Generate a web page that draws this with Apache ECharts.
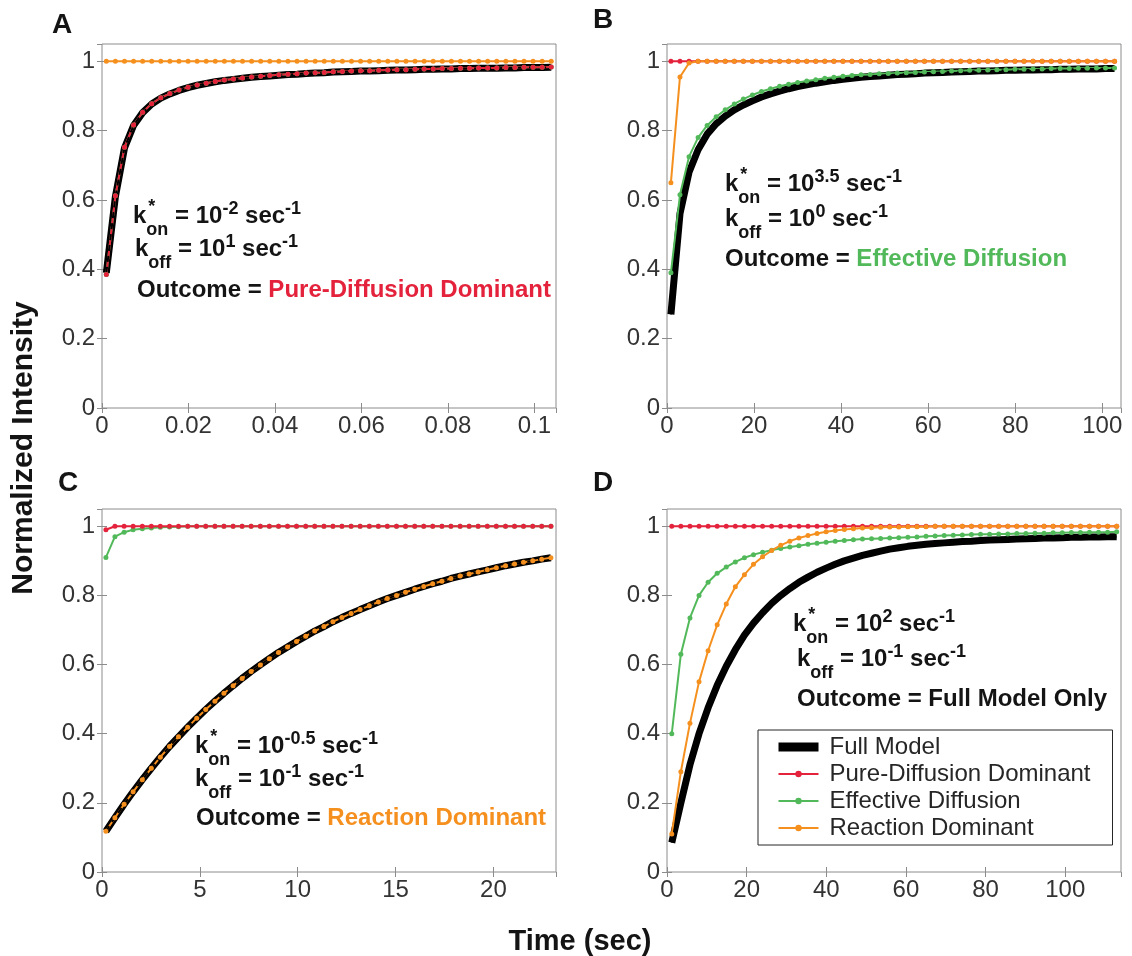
<!DOCTYPE html>
<html><head><meta charset="utf-8">
<script src="https://cdn.jsdelivr.net/npm/echarts@6/dist/echarts.min.js"></script>
<style>html,body{margin:0;padding:0;background:#fff}#c{width:1132px;height:956px}</style>
</head><body><div id="c"></div>
<script>
// ---------- Panel A (time axis 0..0.105 s) ----------
const tA = [0.001,0.0031,0.0052,0.0073,0.0094,0.0115,0.0136,0.0157,0.0178,0.0199,
  0.022,0.0241,0.0262,0.0283,0.0304,0.0325,0.0346,0.0367,0.0388,0.0409,
  0.043,0.0451,0.0472,0.0493,0.0514,0.0535,0.0556,0.0577,0.0598,0.0619,
  0.064,0.0661,0.0682,0.0703,0.0724,0.0745,0.0766,0.0787,0.0808,0.0829,
  0.085,0.0871,0.0892,0.0913,0.0934,0.0955,0.0976,0.0997,0.1018,0.1039];
const fullA = [0.39,0.61,0.75,0.815,0.852,0.877,0.894,0.906,0.916,0.924,
  0.931,0.936,0.941,0.945,0.948,0.951,0.954,0.956,0.958,0.96,
  0.962,0.963,0.965,0.966,0.967,0.969,0.97,0.971,0.972,0.972,
  0.973,0.974,0.975,0.975,0.976,0.977,0.977,0.978,0.978,0.979,
  0.979,0.98,0.98,0.98,0.981,0.981,0.982,0.982,0.982,0.983];
const pureA = [0.385,0.612,0.752,0.816,0.853,0.878,0.895,0.907,0.917,0.925,
  0.932,0.937,0.942,0.946,0.949,0.952,0.955,0.957,0.959,0.961,
  0.963,0.964,0.966,0.967,0.968,0.97,0.971,0.972,0.973,0.973,
  0.974,0.975,0.976,0.976,0.977,0.978,0.978,0.979,0.979,0.98,
  0.98,0.981,0.981,0.981,0.982,0.982,0.983,0.983,0.983,0.984];
const effA = pureA;
const reactA = [1,1,1,1,1,1,1,1,1,1, 1,1,1,1,1,1,1,1,1,1, 1,1,1,1,1,1,1,1,1,1,
  1,1,1,1,1,1,1,1,1,1, 1,1,1,1,1,1,1,1,1,1];

// ---------- Panel B (time axis 0..104.3 s) ----------
const tB = [0.9,2.98,5.06,7.14,9.22,11.3,13.38,15.46,17.54,19.62,
  21.7,23.78,25.86,27.94,30.02,32.1,34.18,36.26,38.34,40.42,
  42.5,44.58,46.66,48.74,50.82,52.9,54.98,57.06,59.14,61.22,
  63.3,65.38,67.46,69.54,71.62,73.7,75.78,77.86,79.94,82.02,
  84.1,86.18,88.26,90.34,92.42,94.5,96.58,98.66,100.74,102.82];
const fullB = [0.27,0.56,0.68,0.745,0.79,0.82,0.842,0.86,0.874,0.886,
  0.897,0.906,0.914,0.921,0.927,0.932,0.937,0.941,0.945,0.948,
  0.951,0.954,0.956,0.958,0.96,0.962,0.963,0.964,0.966,0.967,
  0.968,0.969,0.97,0.971,0.972,0.972,0.973,0.974,0.974,0.975,
  0.975,0.976,0.976,0.977,0.977,0.978,0.978,0.978,0.979,0.979];
const effB = [0.39,0.615,0.725,0.78,0.815,0.84,0.86,0.877,0.891,0.903,
  0.913,0.921,0.928,0.934,0.939,0.943,0.947,0.951,0.954,0.957,
  0.959,0.961,0.962,0.964,0.965,0.966,0.967,0.968,0.969,0.97,
  0.971,0.972,0.973,0.974,0.974,0.975,0.976,0.976,0.977,0.977,
  0.978,0.978,0.979,0.979,0.979,0.98,0.98,0.981,0.981,0.981];
const pureB = [1,1,1,1,1,1,1,1,1,1, 1,1,1,1,1,1,1,1,1,1, 1,1,1,1,1,1,1,1,1,1,
  1,1,1,1,1,1,1,1,1,1, 1,1,1,1,1,1,1,1,1,1];
const reactB = [0.65,0.955,0.995,1,1,1,1,1,1,1, 1,1,1,1,1,1,1,1,1,1, 1,1,1,1,1,1,1,1,1,1,
  1,1,1,1,1,1,1,1,1,1, 1,1,1,1,1,1,1,1,1,1];

// ---------- Panel C (time axis 0..23.2 s) ----------
const tC = [0.2,0.66,1.13,1.59,2.06,2.52,2.98,3.45,3.91,4.38,
  4.84,5.3,5.77,6.23,6.7,7.16,7.62,8.09,8.55,9.02,
  9.48,9.94,10.41,10.87,11.34,11.8,12.26,12.73,13.19,13.66,
  14.12,14.58,15.05,15.51,15.98,16.44,16.9,17.37,17.83,18.3,
  18.76,19.22,19.69,20.15,20.62,21.08,21.54,22.01,22.47,22.94];
const reactC = [0.118,0.157,0.196,0.232,0.267,0.3,0.332,0.363,0.391,0.419,
  0.445,0.47,0.494,0.517,0.539,0.56,0.58,0.599,0.617,0.635,
  0.651,0.667,0.682,0.697,0.71,0.724,0.736,0.748,0.759,0.77,
  0.781,0.791,0.8,0.809,0.818,0.826,0.834,0.841,0.849,0.856,
  0.862,0.868,0.874,0.88,0.886,0.891,0.896,0.9,0.905,0.909];
const fullC = reactC;
const effC = [0.91,0.97,0.983,0.99,0.993,0.995,0.997,0.998,0.999,1, 1,1,1,1,1,1,1,1,1,1,
  1,1,1,1,1,1,1,1,1,1, 1,1,1,1,1,1,1,1,1,1, 1,1,1,1,1,1,1,1,1,1];
const pureC = [0.99,1,1,1,1,1,1,1,1,1, 1,1,1,1,1,1,1,1,1,1, 1,1,1,1,1,1,1,1,1,1,
  1,1,1,1,1,1,1,1,1,1, 1,1,1,1,1,1,1,1,1,1];

// ---------- Panel D (time axis 0..114 s) ----------
const tD = [1.2,3.48,5.76,8.04,10.32,12.6,14.88,17.16,19.44,21.72,
  24,26.28,28.56,30.84,33.12,35.4,37.68,39.96,42.24,44.52,
  46.8,49.08,51.36,53.64,55.92,58.2,60.48,62.76,65.04,67.32,
  69.6,71.88,74.16,76.44,78.72,81,83.28,85.56,87.84,90.12,
  92.4,94.68,96.96,99.24,101.52,103.8,106.08,108.36,110.64,112.92];
const fullD = [0.085,0.2,0.31,0.4,0.475,0.54,0.595,0.643,0.685,0.72,
  0.75,0.777,0.8,0.82,0.838,0.853,0.867,0.879,0.89,0.9,
  0.908,0.916,0.922,0.928,0.934,0.938,0.942,0.945,0.948,0.95,
  0.952,0.954,0.956,0.957,0.959,0.96,0.961,0.962,0.963,0.964,
  0.965,0.966,0.966,0.967,0.968,0.968,0.969,0.969,0.97,0.97];
const effD = [0.4,0.63,0.735,0.8,0.838,0.864,0.882,0.897,0.909,0.918,
  0.925,0.931,0.936,0.94,0.944,0.948,0.951,0.954,0.957,0.959,
  0.961,0.963,0.964,0.965,0.966,0.967,0.968,0.969,0.971,0.972,
  0.973,0.974,0.975,0.976,0.977,0.977,0.978,0.978,0.979,0.979,
  0.98,0.98,0.981,0.981,0.982,0.982,0.983,0.983,0.983,0.984];
const pureD = [1,1,1,1,1,1,1,1,1,1, 1,1,1,1,1,1,1,1,1,1, 1,1,1,1,1,1,1,1,1,1,
  1,1,1,1,1,1,1,1,1,1, 1,1,1,1,1,1,1,1,1,1];
const reactD = [0.11,0.29,0.43,0.55,0.64,0.715,0.775,0.825,0.86,0.89,
  0.912,0.93,0.945,0.957,0.966,0.973,0.979,0.984,0.988,0.991,
  0.993,0.995,0.996,0.997,0.998,0.998,0.999,0.999,0.999,1,
  1,1,1,1,1,1,1,1,1,1, 1,1,1,1,1,1,1,1,1,1];

// axis ranges / tick steps
const xMaxes = [0.105, 104.3, 23.2, 114];
const xSteps = [0.02, 20, 5, 20];
const yMax = 1.05, yStep = 0.2;
const legendNames = ['Full Model','Pure-Diffusion Dominant','Effective Diffusion','Reaction Dominant'];

const FONT = '"Liberation Sans", Arial, Helvetica, sans-serif';
const AXC = '#8c8c8c', LBL = '#333333', INK = '#141414';
const COL = {pure:'#e4223b', eff:'#52b95a', react:'#f5901f'};

const panels = [
  {t:tA, full:fullA, eff:effA, pure:pureA, react:reactA, box:[102,44,454,364]},
  {t:tB, full:fullB, eff:effB, pure:pureB, react:reactB, box:[667,44,454,364]},
  {t:tC, full:fullC, eff:effC, pure:pureC, react:reactC, box:[102,509,454,363]},
  {t:tD, full:fullD, eff:effD, pure:pureD, react:reactD, box:[667,509,454,363]}
];
const pts = (t, y) => t.map((v, i) => [v, y[i]]);

const grid = [], xAxis = [], yAxis = [], series = [];
panels.forEach((p, i) => {
  grid.push({left:p.box[0], top:p.box[1], width:p.box[2], height:p.box[3], show:true,
    borderColor:AXC, borderWidth:1, backgroundColor:'rgba(0,0,0,0)', containLabel:false, outerBoundsMode:'none'});
  const tick = {show:true, inside:true, length:5, lineStyle:{color:AXC, width:1}};
  const lab = {show:true, color:LBL, fontSize:24, fontFamily:FONT, showMaxLabel:false};
  const common = {type:'value', gridIndex:i, axisLine:{show:false}, axisTick:tick, splitLine:{show:false}, splitArea:{show:false}};
  xAxis.push(Object.assign({}, common, {position:'bottom', min:0, max:xMaxes[i], interval:xSteps[i], axisLabel:Object.assign({}, lab, {margin:6})}));
  xAxis.push(Object.assign({}, common, {position:'top', min:0, max:xMaxes[i], interval:xSteps[i], axisLabel:{show:false}}));
  yAxis.push(Object.assign({}, common, {position:'left', min:0, max:yMax, interval:yStep, axisLabel:Object.assign({}, lab, {margin:7})}));
  yAxis.push(Object.assign({}, common, {position:'right', min:0, max:yMax, interval:yStep, axisLabel:{show:false}}));
  const xi = 2 * i, yi = 2 * i;
  const base = {type:'line', xAxisIndex:xi, yAxisIndex:yi, animation:false, emphasis:{disabled:true}, silent:true, smooth:false};
  const mk = (name, y, color) => Object.assign({}, base, {name, data:pts(p.t, y), symbol:'circle', symbolSize:5, showSymbol:true,
    lineStyle:{color, width:2}, itemStyle:{color}});
  series.push(Object.assign({}, base, {name:'Full Model', data:pts(p.t, p.full), symbol:'none', lineStyle:{color:'#000', width:7}, itemStyle:{color:'#000'}}));
  series.push(mk('Effective Diffusion', p.eff, COL.eff));
  series.push(mk('Pure-Diffusion Dominant', p.pure, COL.pure));
  series.push(mk('Reaction Dominant', p.react, COL.react));
  series.push(Object.assign({}, base, {name:'_dashed', data:pts(p.t, p.full), symbol:'none', lineStyle:{color:'#000', width:2, type:[6,5]}, itemStyle:{color:'#000'}}));
});

// ---------- text ----------
const mctx = document.createElement('canvas').getContext('2d');
const bold = fs => `bold ${fs}px ${FONT}`;
const graphic = [];
function txt(x, baseline, text, fs, fill, align) {
  graphic.push({type:'text', x, y: baseline - 0.3465 * fs, z:100, silent:true,
    style:{text, font:bold(fs), fill: fill || INK, align: align || 'left', verticalAlign:'middle'}});
}
function line(x, baseline, parts) {
  let cx = x;
  parts.forEach(([s, kind, color]) => {
    const fs = kind === 'm' ? 24 : 18;
    const dy = kind === 'sup' ? -10 : kind === 'sub' ? 11 : kind === 'star' ? -12 : 0;
    txt(kind === 'star' ? cx + 2 : cx, baseline + dy, s, fs, color);
    if (kind !== 'star') { mctx.font = bold(fs); cx += mctx.measureText(s).width; }
  });
}
// panel letters
txt(52, 35, 'A', 28); txt(593, 30, 'B', 28); txt(58, 493, 'C', 28); txt(593, 493, 'D', 28);
// annotations
line(133, 225, [['k','m'],['*','star'],['on','sub'],[' = 10','m'],['-2','sup'],[' sec','m'],['-1','sup']]);
line(135, 258, [['k','m'],['off','sub'],[' = 10','m'],['1','sup'],[' sec','m'],['-1','sup']]);
line(137, 299, [['Outcome = ','m'],['Pure-Diffusion Dominant','m',COL.pure]]);
line(725, 193, [['k','m'],['*','star'],['on','sub'],[' = 10','m'],['3.5','sup'],[' sec','m'],['-1','sup']]);
line(725, 228, [['k','m'],['off','sub'],[' = 10','m'],['0','sup'],[' sec','m'],['-1','sup']]);
line(725, 268, [['Outcome = ','m'],['Effective Diffusion','m',COL.eff]]);
line(195, 755, [['k','m'],['*','star'],['on','sub'],[' = 10','m'],['-0.5','sup'],[' sec','m'],['-1','sup']]);
line(195, 788, [['k','m'],['off','sub'],[' = 10','m'],['-1','sup'],[' sec','m'],['-1','sup']]);
line(196, 827, [['Outcome = ','m'],['Reaction Dominant','m',COL.react]]);
line(793, 633, [['k','m'],['*','star'],['on','sub'],[' = 10','m'],['2','sup'],[' sec','m'],['-1','sup']]);
line(797, 668, [['k','m'],['off','sub'],[' = 10','m'],['-1','sup'],[' sec','m'],['-1','sup']]);
line(797, 708, [['Outcome = Full Model Only','m']]);
// axis titles
graphic.push({type:'text', x:24, y:448, rotation:Math.PI/2, silent:true,
  style:{text:'Normalized Intensity', font:bold(30), fill:INK, align:'center', verticalAlign:'middle'}});
txt(580, 952, 'Time (sec)', 29, INK, 'center');

const chart = echarts.init(document.getElementById('c'), null, {renderer:'canvas'});
chart.setOption({
  backgroundColor:'#ffffff',
  animation:false,
  grid, xAxis, yAxis, series, graphic,
  legend:{
    data:[
      {name:legendNames[0], lineStyle:{width:9}},
      {name:legendNames[1]},
      {name:legendNames[2]},
      {name:legendNames[3]}
    ],
    orient:'vertical', left:758, top:730, itemWidth:40, itemHeight:8, itemGap:3,
    padding:[5,22,5,16], borderColor:'#262626', borderWidth:1, backgroundColor:'#ffffff',
    selectedMode:false,
    textStyle:{fontSize:24, color:'#262626', fontFamily:FONT, padding:[0,0,0,6]}
  }
});
</script></body></html>
